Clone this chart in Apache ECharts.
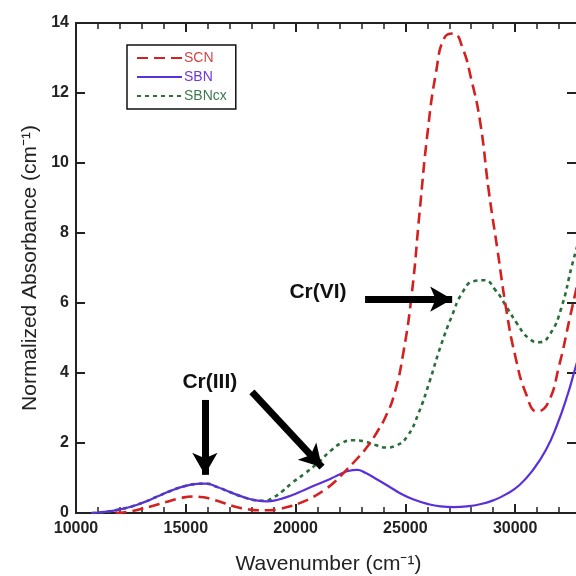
<!DOCTYPE html>
<html>
<head>
<meta charset="utf-8">
<script src="https://cdn.jsdelivr.net/npm/echarts@6/dist/echarts.min.js"></script>
<style>html,body{margin:0;padding:0;background:#fff}#c{width:576px;height:576px}</style>
</head>
<body>
<div id="c"></div>
<script>
// Data (wavenumber in cm^-1, normalized absorbance in cm^-1)
const scnX = [11800,12400,13000,13600,14200,14800,15300,15800,16300,16800,17300,17800,18300,18800,19300,19800,20300,20800,21300,21800,22300,22800,23300,23700,24100,24500,24900,25300,25650,26000,26400,26800,27200,27600,28000,28400,28800,29200,29600,30000,30500,31000,31500,32000,32500,33000];
const scnY = [0.0,0.04,0.12,0.22,0.33,0.43,0.47,0.45,0.37,0.27,0.17,0.11,0.08,0.08,0.12,0.2,0.31,0.46,0.65,0.9,1.22,1.55,1.92,2.3,2.75,3.4,4.55,6.3,8.6,10.8,12.6,13.6,13.7,13.3,12.4,11.2,9.2,7.5,5.8,4.5,3.4,2.9,3.15,4.2,5.6,7.0];

const sbnX = [10700,11300,11900,12500,13100,13700,14300,14900,15500,15900,16400,17000,17600,18200,18700,19200,19800,20400,21000,21600,22000,22400,22800,23200,23600,24200,24800,25400,26000,26600,27200,27800,28400,29000,29600,30200,30800,31400,31900,32400,32700,33000];
const sbnY = [0.0,0.03,0.09,0.18,0.31,0.47,0.63,0.76,0.83,0.84,0.75,0.6,0.46,0.36,0.33,0.38,0.5,0.66,0.82,0.98,1.1,1.2,1.23,1.14,1.0,0.78,0.55,0.38,0.26,0.19,0.17,0.19,0.25,0.36,0.54,0.8,1.22,1.8,2.5,3.4,4.05,4.7];

const sbncxX = [10700,11300,11900,12500,13100,13700,14300,14900,15500,15900,16400,17000,17600,18200,18600,19000,19400,19800,20400,21000,21600,22100,22600,23100,23600,24100,24600,25100,25600,26100,26600,27100,27600,28100,28600,29100,29600,30100,30600,31100,31600,32100,32600,33000];
const sbncxY = [0.0,0.03,0.09,0.18,0.31,0.47,0.63,0.76,0.83,0.84,0.75,0.6,0.46,0.36,0.35,0.45,0.62,0.84,1.12,1.42,1.78,2.0,2.08,2.05,1.95,1.87,1.93,2.2,2.85,3.75,4.75,5.6,6.3,6.62,6.65,6.37,5.9,5.4,5.0,4.88,5.12,5.85,7.1,8.0];

const xTicks = [10000,15000,20000,25000,30000];
const yTicks = [0,2,4,6,8,10,12,14];

// Annotation anchors (data coordinates)
const crVIText = [21022, 6.31];
const crVIArrow = [[23165, 6.11], [27132, 6.11]];
const crIIIText = [16097, 3.74];
const crIIIArrowDown = [[15869, 3.23], [15869, 1.09]];
const crIIIArrowDiag = [[18012, 3.46], [21204, 1.31]];

const pairs = (xs, ys) => xs.map((x, i) => [x, ys[i]]);

const FONT = 'Liberation Sans, Arial, Helvetica, sans-serif';
const chart = echarts.init(document.getElementById('c'), null, {renderer: 'canvas'});

const xBase = {
  type: 'value', min: 10000, max: 33000, interval: 5000,
  axisLine: {show: true, onZero: false, lineStyle: {color: '#222', width: 2}},
  axisTick: {show: true, inside: true, length: 9, lineStyle: {color: '#222', width: 2}},
  minorTick: {show: true, splitNumber: 5, length: 6, lineStyle: {color: '#222', width: 1.5}},
  splitLine: {show: false}
};
const yBase = {
  type: 'value', min: 0, max: 14, interval: 2,
  axisLine: {show: true, onZero: false, lineStyle: {color: '#222', width: 2}},
  axisTick: {show: true, inside: true, length: 9, lineStyle: {color: '#222', width: 2}},
  splitLine: {show: false}
};

const arrowLine = (pts) => [
  {coord: pts[0], symbol: 'none'},
  {coord: pts[1], symbol: 'arrow', symbolSize: [19, 22]}
];

chart.setOption({
  animation: false,
  backgroundColor: '#fff',
  textStyle: {fontFamily: FONT},
  grid: {left: 76, right: -5, top: 23, bottom: 63, containLabel: false, outerBoundsMode: 'none'},
  legend: {
    left: 127, top: 45, orient: 'vertical',
    padding: [6, 9], itemGap: 5, itemWidth: 45, itemHeight: 14,
    borderColor: '#111', borderWidth: 1.5, borderRadius: 0,
    itemStyle: {opacity: 0},
    textStyle: {fontSize: 14, fontFamily: FONT, padding: [0, 0, 0, -3]},
    data: [
      {name: 'SCN', textStyle: {color: '#d04848'}},
      {name: 'SBN', textStyle: {color: '#7038d0'}},
      {name: 'SBNcx', textStyle: {color: '#3e7a4e'}}
    ]
  },
  xAxis: [
    Object.assign({}, xBase, {
      position: 'bottom',
      name: 'Wavenumber (cm⁻¹)', nameLocation: 'middle', nameGap: 41,
      nameTextStyle: {fontSize: 21, color: '#222', fontFamily: FONT},
      axisLabel: {
        show: true, fontSize: 16, color: '#222', fontWeight: 'bold', margin: 8,
        formatter: v => (xTicks.indexOf(v) >= 0 ? String(v) : '')
      }
    }),
    Object.assign({}, xBase, {position: 'top', axisLabel: {show: false}})
  ],
  yAxis: [
    Object.assign({}, yBase, {
      position: 'left',
      name: 'Normalized Absorbance (cm⁻¹)', nameLocation: 'middle', nameGap: 35,
      nameTextStyle: {fontSize: 21, color: '#222', fontFamily: FONT},
      axisLabel: {
        show: true, fontSize: 16, color: '#222', fontWeight: 'bold', margin: 7,
        formatter: v => (yTicks.indexOf(v) >= 0 ? String(v) : '')
      }
    }),
    Object.assign({}, yBase, {position: 'right', axisLine: {show: false},
      axisTick: {show: true, inside: true, length: 14, lineStyle: {color: '#222', width: 2}},
      axisLabel: {show: false}})
  ],
  series: [
    {
      name: 'SCN', type: 'line', xAxisIndex: 0, yAxisIndex: 0,
      data: pairs(scnX, scnY), smooth: 0.5, symbol: 'none', clip: true,
      lineStyle: {color: '#d42020', width: 2.6, type: [11, 6]},
      itemStyle: {color: '#d42020'},
      markLine: {
        silent: true, animation: false,
        lineStyle: {color: '#000', width: 7, type: 'solid'},
        label: {show: false},
        data: [arrowLine(crVIArrow), arrowLine(crIIIArrowDown), arrowLine(crIIIArrowDiag)]
      },
      markPoint: {
        silent: true, animation: false, symbol: 'circle', symbolSize: 1,
        itemStyle: {color: 'rgba(0,0,0,0)'},
        label: {show: true, position: 'inside', fontSize: 21, fontWeight: 'bold', color: '#111', fontFamily: FONT},
        data: [
          {coord: crVIText, value: 'Cr(VI)', label: {formatter: 'Cr(VI)'}},
          {coord: crIIIText, value: 'Cr(III)', label: {formatter: 'Cr(III)'}}
        ]
      },
      z: 3
    },
    {
      name: 'SBN', type: 'line', xAxisIndex: 0, yAxisIndex: 0,
      data: pairs(sbnX, sbnY), smooth: 0.5, symbol: 'none', clip: true,
      lineStyle: {color: '#5a30d8', width: 2.2, type: 'solid'},
      itemStyle: {color: '#5a30d8'}, z: 2
    },
    {
      name: 'SBNcx', type: 'line', xAxisIndex: 0, yAxisIndex: 0,
      data: pairs(sbncxX, sbncxY), smooth: 0.5, symbol: 'none', clip: true,
      lineStyle: {color: '#2c6e3a', width: 2.6, type: [4, 4]},
      itemStyle: {color: '#2c6e3a'}, z: 1
    }
  ]
});
</script>
</body>
</html>
